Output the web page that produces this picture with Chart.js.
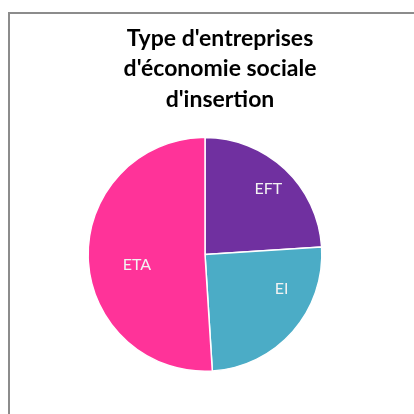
<!DOCTYPE html>
<html>
<head>
<meta charset="utf-8">
<script src="https://cdn.jsdelivr.net/npm/chart.js@4/dist/chart.umd.min.js"></script>
<style>
  html, body { margin: 0; padding: 0; background: #fff; }
  #frame { position: absolute; left: 8px; top: 12px; width: 420px; height: 420px;
           border-left: 2px solid #8c8c8c; border-top: 2px solid #8c8c8c; }
  #wrap { position: absolute; left: 0; top: 0; width: 414px; height: 414px; }
</style>
</head>
<body>
<div id="frame"></div>
<div id="wrap"><canvas id="typeChart" width="414" height="414"></canvas></div>
<script>
// Type d'entreprises
var categories = ['EFT', 'EI', 'ETA'];
var shares = [24, 25, 51];
var sliceColors = ['#7030a0', '#4bacc6', '#ff3399'];

// labels inside the slices: t = where along the arc, dist = fraction of radius
var sliceLabels = {
  id: 'sliceLabels',
  afterLayout: function(chart, args, opts) {
    // title sits a bit right of the pie
    if (chart.titleBlock) {
      chart.titleBlock.left += opts.titleShift;
      chart.titleBlock.right += opts.titleShift;
    }
  },
  afterDatasetsDraw: function(chart, args, opts) {
    var ctx = chart.ctx;
    var meta = chart.getDatasetMeta(0);
    ctx.save();
    ctx.font = '16px Lato, "Open Sans", sans-serif';
    ctx.fillStyle = '#f2f2f2';
    ctx.textAlign = 'center';
    ctx.textBaseline = 'middle';
    meta.data.forEach(function(arc, i) {
      var p = arc.getProps(['x', 'y', 'startAngle', 'endAngle', 'outerRadius'], true);
      var a = p.startAngle + (p.endAngle - p.startAngle) * opts.t[i];
      var r = p.outerRadius * opts.dist[i];
      ctx.fillText(chart.data.labels[i], p.x + Math.cos(a) * r, p.y + Math.sin(a) * r);
    });
    ctx.restore();
  }
};

var ctx = document.getElementById('typeChart').getContext('2d');
var chartType = new Chart(ctx, {
  type: 'pie',
  data: {
    labels: categories,
    datasets: [{
      data: shares,
      backgroundColor: sliceColors,
      borderColor: '#ffffff',
      borderWidth: 1.5
    }]
  },
  options: {
    responsive: false,
    animation: false,
    layout: { padding: { left: 8, right: 12, top: 0, bottom: 42 } },
    plugins: {
      legend: { display: false },
      tooltip: { enabled: false },
      title: {
        display: true,
        text: ["Type d'entreprises", "d'économie sociale", "d'insertion"],
        color: '#000000',
        font: { family: 'Lato, "Open Sans", sans-serif', size: 23, weight: 'bold', lineHeight: 1.33 },
        padding: { top: 23, bottom: 22 }
      },
      sliceLabels: { t: [0.51, 0.31, 0.46], dist: [0.78, 0.72, 0.59], titleShift: 15 }
    }
  },
  plugins: [sliceLabels]
});
</script>
</body>
</html>
